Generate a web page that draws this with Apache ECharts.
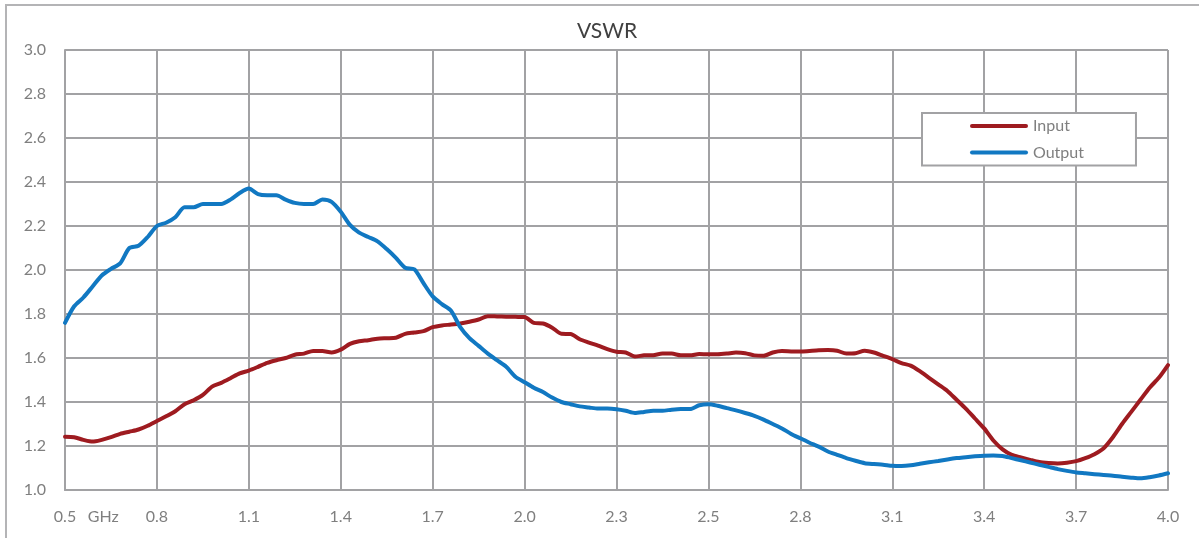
<!DOCTYPE html>
<html>
<head>
<meta charset="utf-8">
<script src="https://cdn.jsdelivr.net/npm/echarts@6/dist/echarts.min.js"></script>
<style>
html,body{margin:0;padding:0;background:#fff;}
#c{width:1199px;height:538px;}
</style>
</head>
<body>
<div id="c"></div>
<script>
// Frequency axis: 121 sample points from 0.5 to 4.0 GHz
const freqStart = 0.5, freqEnd = 4.0, nPoints = 121;
const categories = [];
for (let i = 0; i < nPoints; i++) {
  categories.push((freqStart + (freqEnd - freqStart) * i / (nPoints - 1)).toFixed(4));
}
const tickLabels = ['0.5','0.8','1.1','1.4','1.7','2.0','2.3','2.5','2.8','3.1','3.4','3.7','4.0'];

const inputVswr = [
  1.242,1.240,1.228,1.220,1.228,1.240,1.255,1.265,1.275,1.292,
  1.314,1.335,1.358,1.390,1.408,1.432,1.470,1.487,1.508,1.530,
  1.543,1.560,1.578,1.590,1.600,1.615,1.620,1.632,1.632,1.625,
  1.638,1.664,1.676,1.681,1.688,1.690,1.692,1.710,1.716,1.722,
  1.740,1.748,1.752,1.757,1.765,1.775,1.790,1.789,1.788,1.787,
  1.786,1.760,1.757,1.738,1.710,1.709,1.685,1.670,1.656,1.640,
  1.628,1.625,1.607,1.612,1.613,1.620,1.620,1.612,1.612,1.618,
  1.617,1.617,1.620,1.625,1.622,1.612,1.610,1.625,1.632,1.630,
  1.629,1.632,1.635,1.636,1.633,1.620,1.622,1.633,1.625,1.610,
  1.595,1.577,1.565,1.540,1.510,1.480,1.450,1.410,1.370,1.325,
  1.280,1.225,1.185,1.160,1.148,1.137,1.127,1.123,1.121,1.124,
  1.131,1.145,1.163,1.190,1.240,1.300,1.355,1.410,1.465,1.510,
  1.568
];

const outputVswr = [
  1.760,1.835,1.875,1.925,1.975,2.005,2.030,2.100,2.110,2.150,
  2.200,2.215,2.240,2.285,2.285,2.300,2.300,2.300,2.320,2.350,
  2.370,2.345,2.340,2.340,2.320,2.305,2.300,2.300,2.320,2.310,
  2.265,2.205,2.170,2.150,2.130,2.095,2.055,2.010,2.003,1.940,
  1.880,1.845,1.815,1.740,1.690,1.655,1.620,1.590,1.560,1.515,
  1.490,1.465,1.445,1.420,1.400,1.390,1.380,1.375,1.370,1.370,
  1.367,1.360,1.350,1.355,1.360,1.360,1.365,1.368,1.368,1.385,
  1.390,1.383,1.372,1.362,1.350,1.337,1.320,1.300,1.280,1.255,
  1.235,1.215,1.197,1.175,1.160,1.145,1.133,1.122,1.118,1.115,
  1.110,1.109,1.112,1.119,1.126,1.132,1.139,1.145,1.149,1.153,
  1.156,1.157,1.155,1.145,1.135,1.125,1.115,1.105,1.095,1.087,
  1.080,1.076,1.072,1.068,1.065,1.060,1.056,1.053,1.058,1.066,
  1.076
];

const FONT = 'Lato, "Open Sans", sans-serif';
const gridColor = '#A2A2A4';
const labelColor = '#7F7F7F';
const inputColor = '#9E1B20';
const outputColor = '#1178C2';
const legendIcon = 'path://M2,0 L56,0 A2,2 0 0 1 56,4 L2,4 A2,2 0 0 1 2,0 Z';

const chart = echarts.init(document.getElementById('c'), null, {renderer: 'canvas'});
chart.setOption({
  animation: false,
  backgroundColor: '#fff',
  textStyle: {fontFamily: FONT},
  graphic: [{
    type: 'rect',
    silent: true,
    z: -10,
    shape: {x: 6, y: 5, width: 1250, height: 600},
    style: {fill: 'none', stroke: '#B4B4B6', lineWidth: 2}
  }],
  title: {
    text: 'VSWR',
    left: 602,
    textAlign: 'center',
    top: 16,
    textStyle: {fontFamily: FONT, fontSize: 21, fontWeight: 'normal', color: '#404040'}
  },
  legend: {
    orient: 'vertical',
    left: 922,
    top: 113,
    padding: [5, 52, 5, 48],
    itemWidth: 58,
    itemHeight: 16,
    itemGap: 10.6,
    backgroundColor: '#fff',
    borderColor: '#A2A2A4',
    borderWidth: 2,
    textStyle: {fontFamily: FONT, fontSize: 16, color: labelColor, padding: [0, 0, 0, 0]},
    data: [
      {name: 'Input', icon: legendIcon, itemStyle: {color: inputColor}},
      {name: 'Output', icon: legendIcon, itemStyle: {color: outputColor}}
    ]
  },
  grid: {left: 65, right: 31, top: 50, bottom: 48, containLabel: false},
  xAxis: {
    type: 'category',
    data: categories,
    boundaryGap: false,
    axisLine: {show: true, lineStyle: {color: gridColor, width: 2}},
    axisTick: {show: false},
    splitLine: {show: true, interval: 9, lineStyle: {color: gridColor, width: 2}},
    axisLabel: {
      interval: 9,
      margin: 19,
      fontFamily: FONT,
      fontSize: 16,
      color: labelColor,
      formatter: function (v, idx) {
        const t = tickLabels[Math.round(idx / 10)];
        if (idx === 0) return '{p|}{a|' + t + '}{g|GHz}';
        return t;
      },
      rich: {
        p: {width: 43, fontSize: 16, fontFamily: FONT},
        a: {fontSize: 16, fontFamily: FONT, color: labelColor},
        g: {width: 32, padding: [0, 0, 0, 11], fontSize: 16, fontFamily: FONT, color: labelColor}
      }
    }
  },
  yAxis: {
    type: 'value',
    min: 1.0,
    max: 3.0,
    interval: 0.2,
    axisLine: {show: true, lineStyle: {color: gridColor, width: 2}},
    axisTick: {show: false},
    splitLine: {show: true, lineStyle: {color: gridColor, width: 2}},
    axisLabel: {
      margin: 19,
      fontFamily: FONT,
      fontSize: 16,
      color: labelColor,
      formatter: function (v) { return v.toFixed(1); }
    }
  },
  series: [
    {
      name: 'Input',
      type: 'line',
      data: inputVswr,
      symbol: 'none',
      smooth: 0.25,
      lineStyle: {color: inputColor, width: 4, cap: 'round', join: 'round'},
      itemStyle: {color: inputColor},
      z: 3
    },
    {
      name: 'Output',
      type: 'line',
      data: outputVswr,
      symbol: 'none',
      smooth: 0.25,
      lineStyle: {color: outputColor, width: 4, cap: 'round', join: 'round'},
      itemStyle: {color: outputColor},
      z: 4
    }
  ]
});
</script>
</body>
</html>
